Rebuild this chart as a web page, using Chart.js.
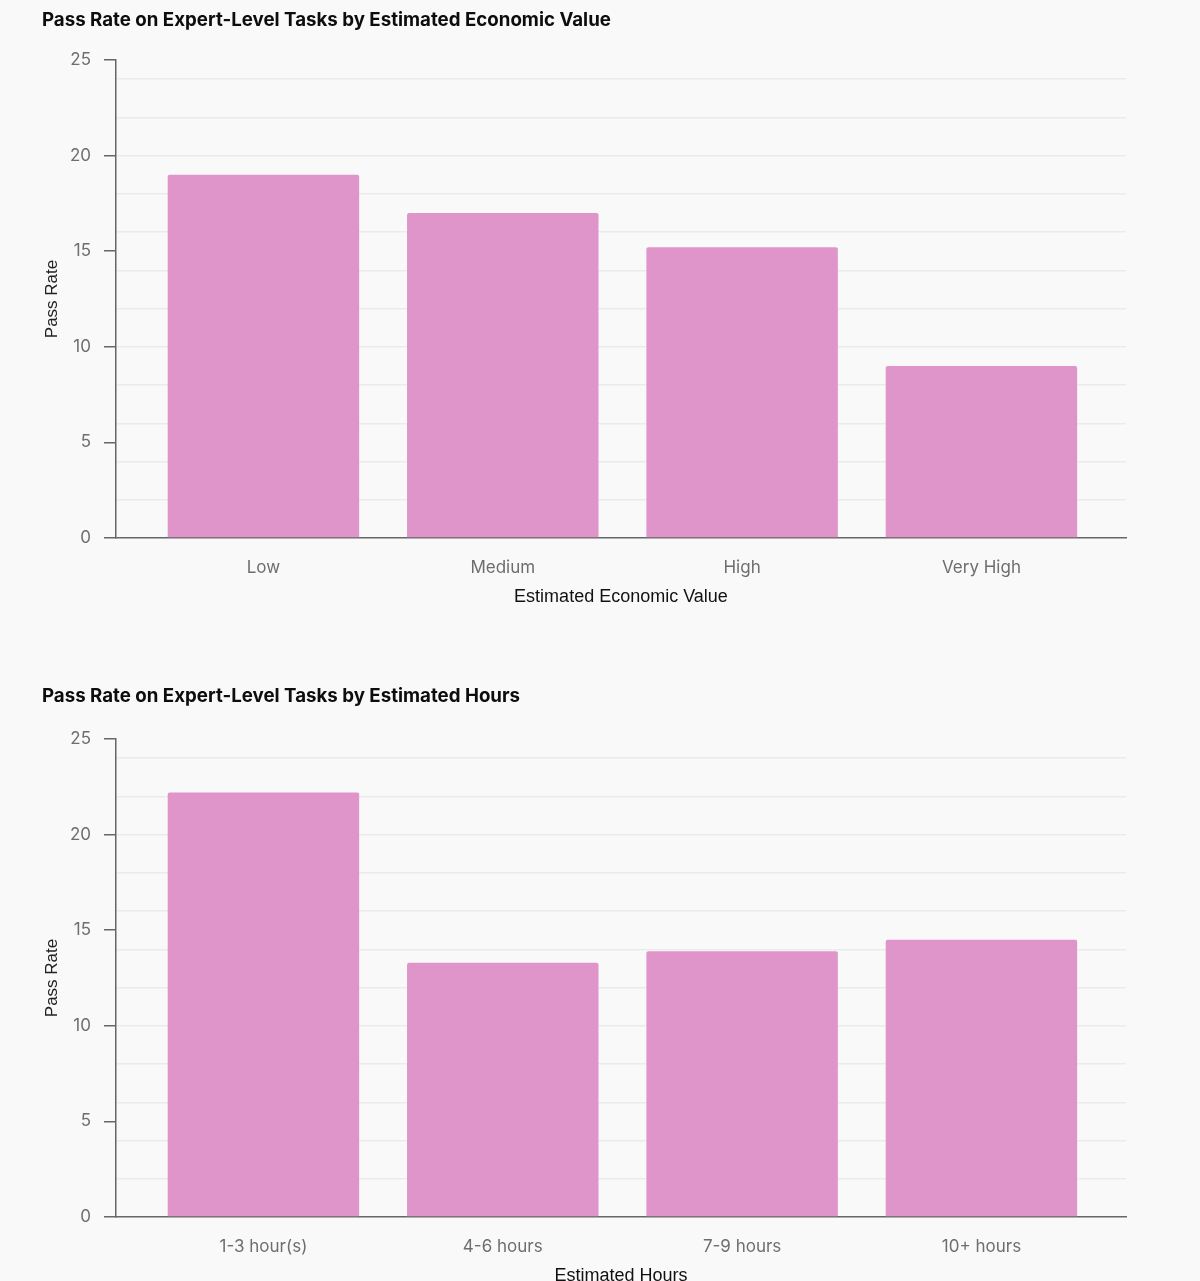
<!DOCTYPE html>
<html>
<head>
<meta charset="utf-8">
<script src="https://cdn.jsdelivr.net/npm/chart.js@4.4.1/dist/chart.umd.min.js"></script>
<style>
  body { margin: 0; background: #f9f9f9; width: 1200px; height: 1281px; overflow: hidden; position: relative; }
  .chart-box { position: absolute; left: 0; width: 1200px; height: 640px; }
</style>
</head>
<body>
<div class="chart-box" style="top:1px"><canvas id="valueChart"></canvas></div>
<div class="chart-box" style="top:680px"><canvas id="hoursChart"></canvas></div>
<script>
// --- Data ---
const valueCategories = ['Low', 'Medium', 'High', 'Very High'];
const valuePassRates = [19, 17, 15.2, 9];

const hourCategories = ['1-3 hour(s)', '4-6 hours', '7-9 hours', '10+ hours'];
const hourPassRates = [22.2, 13.3, 13.9, 14.5];

const yLabelTicks = [0, 5, 10, 15, 20, 25];
const yGridStep = 2;

Chart.defaults.font.family = 'Inter';

function makeChart(canvasId, title, xTitle, categories, values, titleTop) {
    const ctx = document.getElementById(canvasId).getContext('2d');
    return new Chart(ctx, {
        type: 'bar',
        data: {
            datasets: [{
                data: categories.map((c, i) => ({ x: i, y: values[i] })),
                backgroundColor: '#df95c9',
                borderRadius: { topLeft: 2, topRight: 2 },
                borderSkipped: 'bottom',
                categoryPercentage: 1,
                barPercentage: 0.8
            }]
        },
        options: {
            responsive: true,
            maintainAspectRatio: false,
            animation: false,
            layout: { padding: { left: 42, right: 74, top: 0, bottom: 0 } },
            plugins: {
                legend: { display: false },
                tooltip: { enabled: false },
                title: {
                    display: true,
                    text: title,
                    align: 'start',
                    color: '#0d0d0d',
                    font: { size: 18.7, weight: 'bold' },
                    padding: { top: titleTop, bottom: 36.5 - titleTop }
                }
            },
            scales: {
                x: {
                    type: 'linear',
                    offset: false,
                    min: -0.616,
                    max: 3.604,
                    afterBuildTicks: s => {
                        s.ticks = s.ticks.filter(t => Number.isInteger(t.value) && t.value >= 0 && t.value < categories.length);
                    },
                    afterFit: s => { s.height = 103; },
                    ticks: {
                        stepSize: 1,
                        autoSkip: false,
                        maxRotation: 0,
                        padding: 20,
                        color: '#6e6e6e',
                        font: { size: 17 },
                        callback: v => categories[v]
                    },
                    grid: { drawOnChartArea: false, drawTicks: false, offset: false },
                    border: { color: '#666', width: 1.5 },
                    title: {
                        display: true,
                        text: xTitle,
                        color: '#111',
                        font: { family: 'Liberation Sans', size: 18 },
                        padding: { top: 0, bottom: 33 }
                    }
                },
                y: {
                    min: 0,
                    max: 25,
                    afterFit: s => { s.width = 74; },
                    ticks: {
                        stepSize: 1,
                        autoSkip: false,
                        padding: 13,
                        color: '#6e6e6e',
                        font: { size: 17 },
                        callback: v => yLabelTicks.includes(v) ? v : ''
                    },
                    grid: {
                        color: c => (c.tick && c.tick.value > 0 && c.tick.value % yGridStep === 0) ? '#ebebeb' : 'rgba(0,0,0,0)',
                        lineWidth: 1.5,
                        tickLength: 12,
                        tickWidth: 1.5,
                        tickColor: c => (c.tick && yLabelTicks.includes(c.tick.value)) ? '#666' : 'rgba(0,0,0,0)'
                    },
                    border: { color: '#666', width: 1.5 },
                    title: {
                        display: true,
                        text: 'Pass Rate',
                        color: '#222',
                        font: { family: 'Liberation Sans', size: 17 },
                        padding: { top: 0, bottom: 0 }
                    }
                }
            }
        }
    });
}

makeChart('valueChart', 'Pass Rate on Expert-Level Tasks by Estimated Economic Value', 'Estimated Economic Value', valueCategories, valuePassRates, 8);
makeChart('hoursChart', 'Pass Rate on Expert-Level Tasks by Estimated Hours', 'Estimated Hours', hourCategories, hourPassRates, 5);
</script>
</body>
</html>
